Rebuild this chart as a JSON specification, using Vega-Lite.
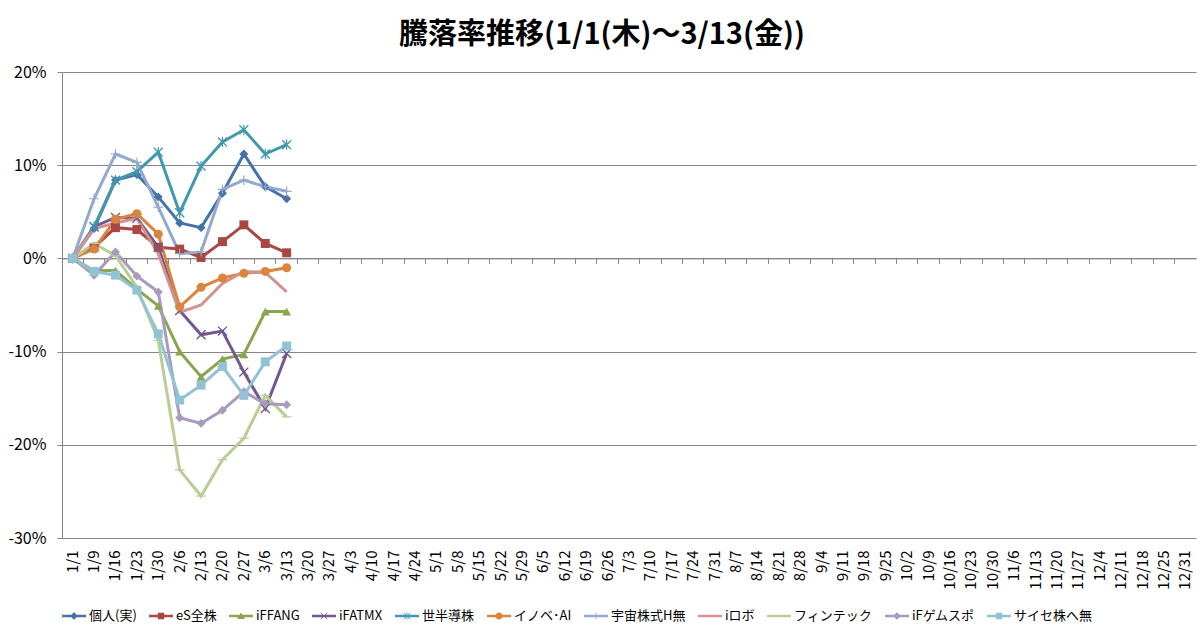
{
  "$schema": "https://vega.github.io/schema/vega-lite/v6.json",
  "width": 1134,
  "height": 466,
  "autosize": {"type": "none"},
  "padding": {"left": 62, "top": 72, "right": 4, "bottom": 100},
  "background": "white",
  "title": {
    "text": "騰落率推移(1/1(木)～3/13(金))",
    "font": "Noto Sans CJK JP",
    "fontSize": 29,
    "fontWeight": "bold",
    "color": "#000000",
    "frame": "bounds",
    "offset": 14
  },
  "config": {
    "font": "Noto Sans CJK JP",
    "view": {"stroke": null}
  },
  "data": {
    "values": [
      {"d": "1/1", "s": "個人(実)", "v": 0},
      {"d": "1/9", "s": "個人(実)", "v": 0.032},
      {"d": "1/16", "s": "個人(実)", "v": 0.084},
      {"d": "1/23", "s": "個人(実)", "v": 0.090},
      {"d": "1/30", "s": "個人(実)", "v": 0.066},
      {"d": "2/6", "s": "個人(実)", "v": 0.038},
      {"d": "2/13", "s": "個人(実)", "v": 0.033},
      {"d": "2/20", "s": "個人(実)", "v": 0.070},
      {"d": "2/27", "s": "個人(実)", "v": 0.112},
      {"d": "3/6", "s": "個人(実)", "v": 0.077},
      {"d": "3/13", "s": "個人(実)", "v": 0.064},

      {"d": "1/1", "s": "eS全株", "v": 0},
      {"d": "1/9", "s": "eS全株", "v": 0.012},
      {"d": "1/16", "s": "eS全株", "v": 0.033},
      {"d": "1/23", "s": "eS全株", "v": 0.031},
      {"d": "1/30", "s": "eS全株", "v": 0.012},
      {"d": "2/6", "s": "eS全株", "v": 0.010},
      {"d": "2/13", "s": "eS全株", "v": 0.001},
      {"d": "2/20", "s": "eS全株", "v": 0.018},
      {"d": "2/27", "s": "eS全株", "v": 0.036},
      {"d": "3/6", "s": "eS全株", "v": 0.016},
      {"d": "3/13", "s": "eS全株", "v": 0.006},

      {"d": "1/1", "s": "iFFANG", "v": 0},
      {"d": "1/9", "s": "iFFANG", "v": -0.013},
      {"d": "1/16", "s": "iFFANG", "v": -0.013},
      {"d": "1/23", "s": "iFFANG", "v": -0.033},
      {"d": "1/30", "s": "iFFANG", "v": -0.051},
      {"d": "2/6", "s": "iFFANG", "v": -0.100},
      {"d": "2/13", "s": "iFFANG", "v": -0.127},
      {"d": "2/20", "s": "iFFANG", "v": -0.108},
      {"d": "2/27", "s": "iFFANG", "v": -0.103},
      {"d": "3/6", "s": "iFFANG", "v": -0.057},
      {"d": "3/13", "s": "iFFANG", "v": -0.057},

      {"d": "1/1", "s": "iFATMX", "v": 0},
      {"d": "1/9", "s": "iFATMX", "v": 0.034},
      {"d": "1/16", "s": "iFATMX", "v": 0.044},
      {"d": "1/23", "s": "iFATMX", "v": 0.043},
      {"d": "1/30", "s": "iFATMX", "v": 0.012},
      {"d": "2/6", "s": "iFATMX", "v": -0.056},
      {"d": "2/13", "s": "iFATMX", "v": -0.082},
      {"d": "2/20", "s": "iFATMX", "v": -0.078},
      {"d": "2/27", "s": "iFATMX", "v": -0.122},
      {"d": "3/6", "s": "iFATMX", "v": -0.161},
      {"d": "3/13", "s": "iFATMX", "v": -0.102},

      {"d": "1/1", "s": "世半導株", "v": 0},
      {"d": "1/9", "s": "世半導株", "v": 0.034},
      {"d": "1/16", "s": "世半導株", "v": 0.084},
      {"d": "1/23", "s": "世半導株", "v": 0.093},
      {"d": "1/30", "s": "世半導株", "v": 0.114},
      {"d": "2/6", "s": "世半導株", "v": 0.049},
      {"d": "2/13", "s": "世半導株", "v": 0.099},
      {"d": "2/20", "s": "世半導株", "v": 0.125},
      {"d": "2/27", "s": "世半導株", "v": 0.138},
      {"d": "3/6", "s": "世半導株", "v": 0.112},
      {"d": "3/13", "s": "世半導株", "v": 0.122},

      {"d": "1/1", "s": "イノベ･AI", "v": 0},
      {"d": "1/9", "s": "イノベ･AI", "v": 0.010},
      {"d": "1/16", "s": "イノベ･AI", "v": 0.042},
      {"d": "1/23", "s": "イノベ･AI", "v": 0.048},
      {"d": "1/30", "s": "イノベ･AI", "v": 0.026},
      {"d": "2/6", "s": "イノベ･AI", "v": -0.052},
      {"d": "2/13", "s": "イノベ･AI", "v": -0.031},
      {"d": "2/20", "s": "イノベ･AI", "v": -0.021},
      {"d": "2/27", "s": "イノベ･AI", "v": -0.016},
      {"d": "3/6", "s": "イノベ･AI", "v": -0.014},
      {"d": "3/13", "s": "イノベ･AI", "v": -0.010},

      {"d": "1/1", "s": "宇宙株式H無", "v": 0},
      {"d": "1/9", "s": "宇宙株式H無", "v": 0.064},
      {"d": "1/16", "s": "宇宙株式H無", "v": 0.112},
      {"d": "1/23", "s": "宇宙株式H無", "v": 0.103},
      {"d": "1/30", "s": "宇宙株式H無", "v": 0.055},
      {"d": "2/6", "s": "宇宙株式H無", "v": 0.005},
      {"d": "2/13", "s": "宇宙株式H無", "v": 0.007},
      {"d": "2/20", "s": "宇宙株式H無", "v": 0.074},
      {"d": "2/27", "s": "宇宙株式H無", "v": 0.084},
      {"d": "3/6", "s": "宇宙株式H無", "v": 0.077},
      {"d": "3/13", "s": "宇宙株式H無", "v": 0.072},

      {"d": "1/1", "s": "iロボ", "v": 0},
      {"d": "1/9", "s": "iロボ", "v": 0.032},
      {"d": "1/16", "s": "iロボ", "v": 0.038},
      {"d": "1/23", "s": "iロボ", "v": 0.043},
      {"d": "1/30", "s": "iロボ", "v": 0.005},
      {"d": "2/6", "s": "iロボ", "v": -0.058},
      {"d": "2/13", "s": "iロボ", "v": -0.050},
      {"d": "2/20", "s": "iロボ", "v": -0.027},
      {"d": "2/27", "s": "iロボ", "v": -0.014},
      {"d": "3/6", "s": "iロボ", "v": -0.015},
      {"d": "3/13", "s": "iロボ", "v": -0.036},

      {"d": "1/1", "s": "フィンテック", "v": 0},
      {"d": "1/9", "s": "フィンテック", "v": 0.016},
      {"d": "1/16", "s": "フィンテック", "v": 0.003},
      {"d": "1/23", "s": "フィンテック", "v": -0.031},
      {"d": "1/30", "s": "フィンテック", "v": -0.088},
      {"d": "2/6", "s": "フィンテック", "v": -0.227},
      {"d": "2/13", "s": "フィンテック", "v": -0.255},
      {"d": "2/20", "s": "フィンテック", "v": -0.216},
      {"d": "2/27", "s": "フィンテック", "v": -0.193},
      {"d": "3/6", "s": "フィンテック", "v": -0.147},
      {"d": "3/13", "s": "フィンテック", "v": -0.170},

      {"d": "1/1", "s": "iFゲムスポ", "v": 0},
      {"d": "1/9", "s": "iFゲムスポ", "v": -0.018},
      {"d": "1/16", "s": "iFゲムスポ", "v": 0.007},
      {"d": "1/23", "s": "iFゲムスポ", "v": -0.019},
      {"d": "1/30", "s": "iFゲムスポ", "v": -0.036},
      {"d": "2/6", "s": "iFゲムスポ", "v": -0.171},
      {"d": "2/13", "s": "iFゲムスポ", "v": -0.177},
      {"d": "2/20", "s": "iFゲムスポ", "v": -0.163},
      {"d": "2/27", "s": "iFゲムスポ", "v": -0.143},
      {"d": "3/6", "s": "iFゲムスポ", "v": -0.156},
      {"d": "3/13", "s": "iFゲムスポ", "v": -0.157},

      {"d": "1/1", "s": "サイセ株へ無", "v": 0},
      {"d": "1/9", "s": "サイセ株へ無", "v": -0.014},
      {"d": "1/16", "s": "サイセ株へ無", "v": -0.018},
      {"d": "1/23", "s": "サイセ株へ無", "v": -0.034},
      {"d": "1/30", "s": "サイセ株へ無", "v": -0.081},
      {"d": "2/6", "s": "サイセ株へ無", "v": -0.152},
      {"d": "2/13", "s": "サイセ株へ無", "v": -0.136},
      {"d": "2/20", "s": "サイセ株へ無", "v": -0.116},
      {"d": "2/27", "s": "サイセ株へ無", "v": -0.147},
      {"d": "3/6", "s": "サイセ株へ無", "v": -0.111},
      {"d": "3/13", "s": "サイセ株へ無", "v": -0.094}
    ]
  },
  "encoding": {
    "y": {
      "field": "v",
      "type": "quantitative",
      "scale": {"domain": [-0.3, 0.2], "nice": false, "zero": false},
      "axis": {
        "title": null,
        "values": [-0.3, -0.2, -0.1, 0, 0.1, 0.2],
        "labelExpr": "round(datum.value * 100) + '%'",
        "grid": true,
        "gridColor": "#868686",
        "gridWidth": 1,
        "domainColor": "#868686",
        "tickColor": "#868686",
        "tickSize": 5,
        "labelPadding": 11,
        "labelFont": "Noto Sans CJK JP",
        "labelFontSize": 16,
        "labelColor": "#000000"
      }
    },
    "color": {
      "field": "s",
      "type": "nominal",
      "scale": {
        "domain": ["個人(実)", "eS全株", "iFFANG", "iFATMX", "世半導株", "イノベ･AI", "宇宙株式H無", "iロボ", "フィンテック", "iFゲムスポ", "サイセ株へ無"],
        "range": ["#4572A7", "#AA4643", "#89A54E", "#71588F", "#4198AF", "#DB843D", "#93A9CF", "#D19392", "#B9CD96", "#A99BBD", "#92C3D4"]
      },
      "legend": {
        "title": null,
        "orient": "bottom",
        "direction": "horizontal",
        "offset": 14,
        "labelFont": "Noto Sans CJK JP",
        "labelFontSize": 13,
        "labelColor": "#000000",
        "symbolSize": 576,
        "labelOffset": 3,
        "columnPadding": 12,
        "encode": {
          "symbols": {
            "update": {
              "shape": {"signal": "['M-1,-0.1H1V0.1H-1Z M0,-0.32L0.32,0L0,0.32L-0.32,0Z', 'M-1,-0.1H1V0.1H-1Z M-0.27,-0.27H0.27V0.27H-0.27Z', 'M-1,-0.1H1V0.1H-1Z M0,-0.3L0.33,0.25H-0.33Z', 'M-1,-0.1H1V0.1H-1Z M-0.25,-0.29L0.29,0.25L0.25,0.29L-0.29,-0.25Z M-0.25,0.29L-0.29,0.25L0.25,-0.29L0.29,-0.25Z', 'M-1,-0.1H1V0.1H-1Z M-0.25,-0.29L0.29,0.25L0.25,0.29L-0.29,-0.25Z M-0.25,0.29L-0.29,0.25L0.25,-0.29L0.29,-0.25Z M-0.03,-0.32H0.03V0.32H-0.03Z', 'M-1,-0.1H1V0.1H-1Z M0.3,0A0.3,0.3 0 1,1 -0.3,0A0.3,0.3 0 1,1 0.3,0Z', 'M-1,-0.1H1V0.1H-1Z M-0.03,-0.32H0.03V0.32H-0.03Z', 'M-1,-0.1H1V0.1H-1Z', 'M-1,-0.1H1V0.1H-1Z', 'M-1,-0.1H1V0.1H-1Z M0,-0.32L0.32,0L0,0.32L-0.32,0Z', 'M-1,-0.1H1V0.1H-1Z M-0.27,-0.27H0.27V0.27H-0.27Z'][indexof(['個人(実)', 'eS全株', 'iFFANG', 'iFATMX', '世半導株', 'イノベ･AI', '宇宙株式H無', 'iロボ', 'フィンテック', 'iFゲムスポ', 'サイセ株へ無'], datum.value)]"},
              "fill": {"signal": "scale('color', datum.value)"},
              "stroke": {"value": "transparent"},
              "strokeWidth": {"value": 0},
              "opacity": {"value": 1}
            }
          }
        }
      }
    }
  },
  "layer": [
    {
      "mark": {"type": "line", "strokeWidth": 3},
      "encoding": {
        "x": {
          "field": "d",
          "type": "ordinal",
          "sort": null,
          "bandPosition": 0.5,
          "scale": {
            "type": "band",
            "paddingInner": 0,
            "paddingOuter": 0,
            "domain": ["1/1", "1/9", "1/16", "1/23", "1/30", "2/6", "2/13", "2/20", "2/27", "3/6", "3/13", "3/20", "3/27", "4/3", "4/10", "4/17", "4/24", "5/1", "5/8", "5/15", "5/22", "5/29", "6/5", "6/12", "6/19", "6/26", "7/3", "7/10", "7/17", "7/24", "7/31", "8/7", "8/14", "8/21", "8/28", "9/4", "9/11", "9/18", "9/25", "10/2", "10/9", "10/16", "10/23", "10/30", "11/6", "11/13", "11/20", "11/27", "12/4", "12/11", "12/18", "12/25", "12/31"]
          },
          "axis": {
            "title": null,
            "orient": "bottom",
            "labelAngle": 270,
            "labelPadding": 12,
            "ticks": false,
            "domain": false,
            "grid": false,
            "labelFont": "Noto Sans CJK JP",
            "labelFontSize": 15,
            "labelColor": "#000000"
          }
        }
      }
    },
    {
      "mark": {"type": "point", "filled": true, "size": 80, "opacity": 1, "strokeWidth": 0},
      "encoding": {
        "x": {
          "field": "d",
          "type": "ordinal",
          "sort": null,
          "bandPosition": 0.5,
          "axis": {
            "title": null,
            "orient": "bottom",
            "offset": -279.6,
            "labels": false,
            "ticks": true,
            "tickSize": 5,
            "tickColor": "#868686",
            "domain": true,
            "domainColor": "#868686",
            "grid": false,
            "bandPosition": 0
          }
        },
        "shape": {
          "field": "s",
          "type": "nominal",
          "legend": null,
          "scale": {
            "domain": ["サイセ株へ無", "iFゲムスポ", "フィンテック", "iロボ", "宇宙株式H無", "イノベ･AI", "世半導株", "iFATMX", "iFFANG", "eS全株", "個人(実)"],
            "range": [
              "square",
              "diamond",
              "M-1.1,-0.14H1.1V0.14H-1.1Z",
              "M0,0",
              "M-1.1,-0.13H1.1V0.13H-1.1Z M-0.13,-1.1H0.13V1.1H-0.13Z",
              "circle",
              "M-0.89,-1.11L1.11,0.89L0.89,1.11L-1.11,-0.89Z M-0.89,1.11L-1.11,0.89L0.89,-1.11L1.11,-0.89Z M-0.13,-1.15H0.13V1.15H-0.13Z",
              "M-0.89,-1.11L1.11,0.89L0.89,1.11L-1.11,-0.89Z M-0.89,1.11L-1.11,0.89L0.89,-1.11L1.11,-0.89Z",
              "triangle-up",
              "square",
              "diamond"
            ]
          }
        }
      }
    }
  ],
  "resolve": {"axis": {"x": "independent"}}
}
